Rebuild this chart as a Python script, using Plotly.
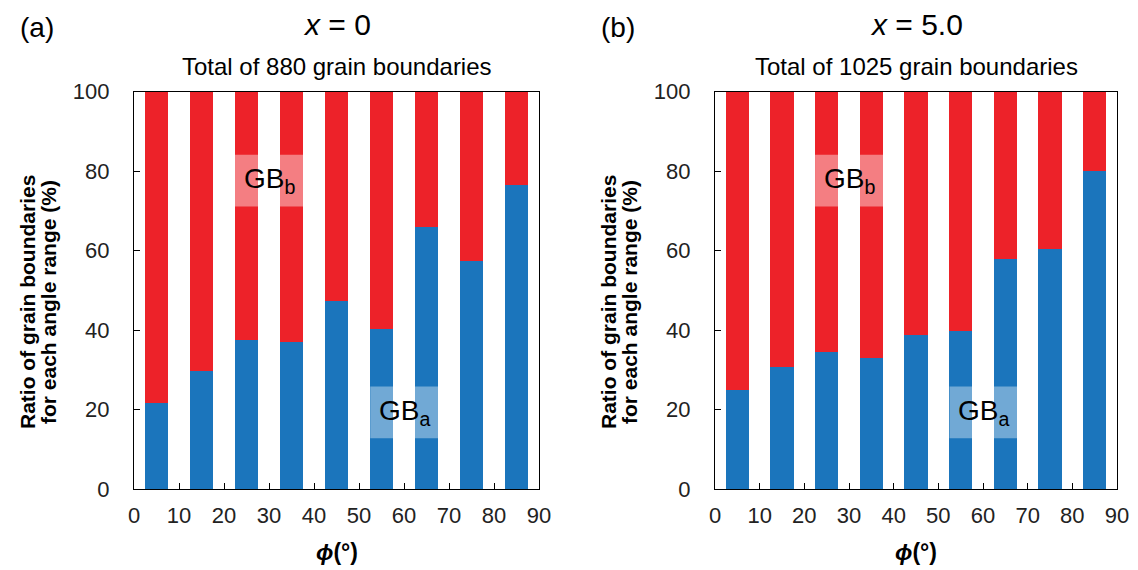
import plotly.graph_objects as go
from plotly.subplots import make_subplots

# ---- data ----
phi_centers = [5, 15, 25, 35, 45, 55, 65, 75, 85]
x_ticks = [0, 10, 20, 30, 40, 50, 60, 70, 80, 90]
y_ticks = [0, 20, 40, 60, 80, 100]

gba_x0 = [21.6, 29.8, 37.4, 37.1, 47.4, 40.3, 65.9, 57.5, 76.4]
gbb_x0 = [78.4, 70.2, 62.6, 62.9, 52.6, 59.7, 34.1, 42.5, 23.6]

gba_x5 = [24.8, 30.7, 34.6, 33.0, 38.7, 39.7, 57.8, 60.5, 80.0]
gbb_x5 = [75.2, 69.3, 65.4, 67.0, 61.3, 60.3, 42.2, 39.5, 20.0]

panel_letters = ["(a)", "(b)"]
panel_titles = ["<i>x</i> = 0", "<i>x</i> = 5.0"]
panel_totals = ["Total of 880 grain boundaries", "Total of 1025 grain boundaries"]

# ---- style ----
RED = "#ED2229"
BLUE = "#1B75BC"
FONT = "Arial, Liberation Sans, sans-serif"
BAR_W = 5.2

W, H = 1138, 570
dom_x = [[134 / W, 539 / W], [715 / W, 1117 / W]]
dom_y = [1 - 489 / H, 1 - 91.7 / H]

fig = make_subplots(rows=1, cols=2)

for i, (ga, gb) in enumerate([(gba_x0, gbb_x0), (gba_x5, gbb_x5)]):
    col = i + 1
    fig.add_trace(go.Bar(x=phi_centers, y=ga, width=BAR_W, marker_color=BLUE,
                         marker_line_width=0, name="GBa"), row=1, col=col)
    fig.add_trace(go.Bar(x=phi_centers, y=gb, width=BAR_W, marker_color=RED,
                         marker_line_width=0, name="GBb"), row=1, col=col)

axis_common = dict(showline=True, linecolor="black", linewidth=1.3, mirror=True,
                   ticks="inside", ticklen=6, tickcolor="black", tickwidth=1.3,
                   showgrid=False, zeroline=False, automargin=False,
                   tickfont=dict(family=FONT, size=22, color="#222"))

for i in range(2):
    xa = "xaxis" if i == 0 else "xaxis2"
    ya = "yaxis" if i == 0 else "yaxis2"
    fig.layout[xa].update(domain=dom_x[i], range=[0, 90], tickvals=x_ticks,
                          ticklabelstandoff=6, **axis_common)
    fig.layout[ya].update(domain=dom_y, range=[0, 100], tickvals=y_ticks,
                          ticklabelstandoff=19, **axis_common)

annotations = []
shapes = []
for i in range(2):
    x0p, x1p = dom_x[i][0] * W, dom_x[i][1] * W
    cx = (x0p + x1p) / 2 / W
    xr = "x" if i == 0 else "x2"
    yr = "y" if i == 0 else "y2"
    annotations += [
        dict(text=panel_letters[i], x=(x0p - 116) / W, y=1 - 27 / H, xref="paper", yref="paper",
             xanchor="left", yanchor="middle", showarrow=False,
             font=dict(family=FONT, size=28, color="black")),
        dict(text=panel_titles[i], x=cx, y=1 - 24 / H, xref="paper", yref="paper",
             xanchor="center", yanchor="middle", showarrow=False,
             font=dict(family=FONT, size=30, color="black")),
        dict(text=panel_totals[i], x=cx, y=1 - 66 / H, xref="paper", yref="paper",
             xanchor="center", yanchor="middle", showarrow=False,
             font=dict(family=FONT, size=24, color="black")),
        dict(text="Ratio of grain boundaries", x=(x0p - 107) / W, y=1 - 302 / H,
             xref="paper", yref="paper", textangle=-90, xanchor="center", yanchor="middle",
             showarrow=False, font=dict(family=FONT, size=21, color="black", weight="bold")),
        dict(text="for each angle range (%)", x=(x0p - 86) / W, y=1 - 302 / H,
             xref="paper", yref="paper", textangle=-90, xanchor="center", yanchor="middle",
             showarrow=False, font=dict(family=FONT, size=21, color="black", weight="bold")),
        dict(text="<i>ϕ</i>(°)", x=cx, y=1 - 552 / H, xref="paper", yref="paper",
             xanchor="center", yanchor="middle", showarrow=False,
             font=dict(family=FONT, size=23, color="black", weight="bold")),
        dict(text="GB<sub>b</sub>", x=30.1, y=77.6, xref=xr, yref=yr,
             xanchor="center", yanchor="middle", showarrow=False,
             font=dict(family=FONT, size=28, color="black")),
        dict(text="GB<sub>a</sub>", x=60.1, y=19.3, xref=xr, yref=yr,
             xanchor="center", yanchor="middle", showarrow=False,
             font=dict(family=FONT, size=28, color="black")),
    ]
    shapes += [
        dict(type="rect", xref=xr, yref=yr, x0=22.4, x1=37.8, y0=71.1, y1=84.1,
             fillcolor="rgba(255,255,255,0.42)", line_width=0, layer="above"),
        dict(type="rect", xref=xr, yref=yr, x0=52.5, x1=67.7, y0=12.8, y1=25.8,
             fillcolor="rgba(255,255,255,0.38)", line_width=0, layer="above"),
    ]

fig.update_layout(width=W, height=H, margin=dict(l=0, r=0, t=0, b=0),
                  barmode="stack", showlegend=False,
                  plot_bgcolor="white", paper_bgcolor="white",
                  annotations=annotations, shapes=shapes,
                  font=dict(family=FONT))

fig.write_html("out.html")
